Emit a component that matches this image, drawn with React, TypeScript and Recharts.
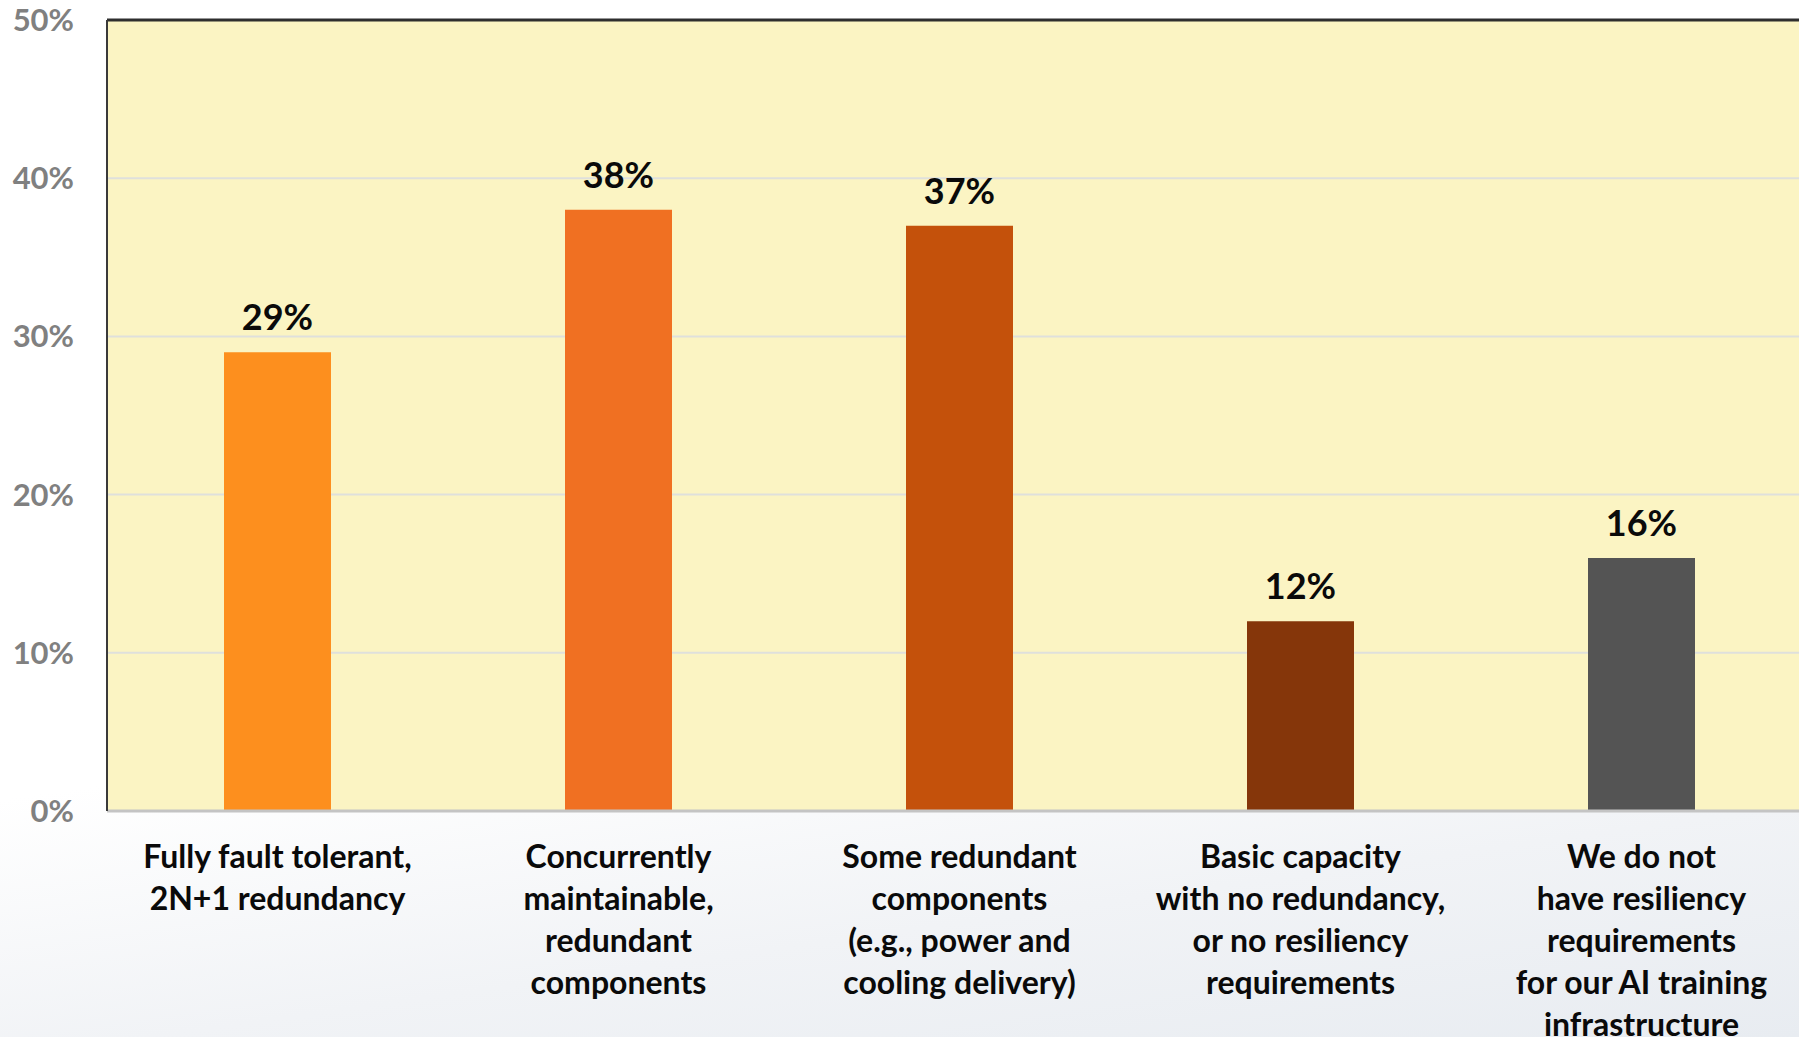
import {
  Bar,
  BarChart,
  CartesianGrid,
  Cell,
  LabelList,
  ReferenceLine,
  XAxis,
  YAxis,
} from "recharts"

// Survey answers, one bar per answer (multi-line labels split on "\n")
const CATEGORIES = [
  "Fully fault tolerant,\n2N+1 redundancy",
  "Concurrently\nmaintainable,\nredundant\ncomponents",
  "Some redundant\ncomponents\n(e.g., power and\ncooling delivery)",
  "Basic capacity\nwith no redundancy,\nor no resiliency\nrequirements",
  "We do not\nhave resiliency\nrequirements\nfor our AI training\ninfrastructure",
]
const SHARES = [29, 38, 37, 12, 16]
const Y_TICKS = [0, 10, 20, 30, 40, 50]

const BAR_COLORS = ["#fd8f1e", "#f07022", "#c4510b", "#85360a", "#545454"]
const FONT = "Lato, 'Open Sans', sans-serif"

const data = CATEGORIES.map((name, i) => ({ name, share: SHARES[i] }))

function CategoryTick({ x, y, payload }: any) {
  const lines = String(payload.value).split("\n")
  return (
    <text
      x={x}
      y={y}
      textAnchor="middle"
      fill="#0a0a0a"
      fontFamily={FONT}
      fontSize={32}
      fontWeight={700}
    >
      {lines.map((line, i) => (
        <tspan key={i} x={x} dy={i === 0 ? 57 : 42}>
          {line}
        </tspan>
      ))}
    </text>
  )
}

export default function App() {
  return (
    <div
      style={{
        position: "fixed",
        left: 0,
        top: 0,
        width: 1799,
        height: 1037,
        overflow: "hidden",
        background:
          "linear-gradient(172deg, #ffffff 0%, #ffffff 62%, #f1f3f6 82%, #e8ecf1 100%)",
      }}
    >
      <BarChart
        width={1812}
        height={1037}
        data={data}
        margin={{ top: 20, right: 0, bottom: 0, left: 0 }}
      >
        <CartesianGrid
          vertical={false}
          fill="#fbf4c3"
          stroke="#dfe0dc"
          strokeWidth={2}
        />
        <XAxis
          dataKey="name"
          height={226}
          interval={0}
          tickLine={false}
          tickSize={0}
          tickMargin={0}
          axisLine={{ stroke: "#c4c4c4", strokeWidth: 3 }}
          tick={<CategoryTick />}
        />
        <YAxis
          width={107}
          domain={[0, 50]}
          ticks={Y_TICKS}
          interval={0}
          tickLine={false}
          tickSize={0}
          tickMargin={33}
          axisLine={{ stroke: "#3a3a3a", strokeWidth: 2 }}
          tickFormatter={(v: number) => `${v}%`}
          tick={{
            fill: "#808080",
            fontFamily: FONT,
            fontSize: 31,
            fontWeight: 700,
          }}
        />
        <ReferenceLine y={50} stroke="#2e2e2e" strokeWidth={3} />
        <Bar dataKey="share" barSize={107} isAnimationActive={false}>
          {data.map((_, i) => (
            <Cell key={`bar-${i}`} fill={BAR_COLORS[i]} />
          ))}
          <LabelList
            dataKey="share"
            position="top"
            offset={22}
            formatter={(v: any) => `${v}%`}
            fill="#0a0a0a"
            fontFamily={FONT}
            fontSize={36}
            fontWeight={700}
          />
        </Bar>
      </BarChart>
    </div>
  )
}
